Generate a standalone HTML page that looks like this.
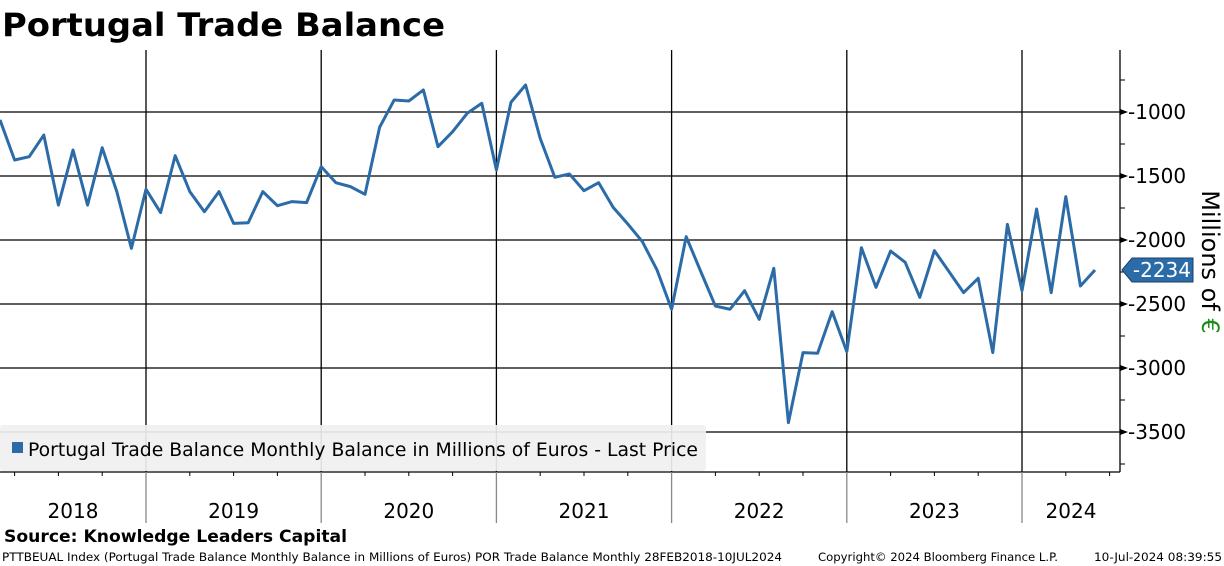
<!DOCTYPE html>
<html><head><meta charset="utf-8"><style>
html,body{margin:0;padding:0;background:#fff;}
svg{display:block;font-family:"DejaVu Sans","Liberation Sans",sans-serif;}
</style></head><body>
<svg id="chart" width="1224" height="566" viewBox="0 0 1224 566">
<text x="2" y="36" font-size="32" font-weight="bold" textLength="443" lengthAdjust="spacingAndGlyphs">Portugal Trade Balance</text>
<g id="grid"></g>
<g id="yaxis"></g>
<g id="xaxis"></g>
<rect x="0" y="425" width="706" height="46" rx="3" fill="#f0f0f0" opacity="0.92"/>
<rect x="12" y="442" width="11" height="11" fill="#2b6ca8"/>
<text x="28" y="456" font-size="19" textLength="670" lengthAdjust="spacingAndGlyphs">Portugal Trade Balance Monthly Balance in Millions of Euros - Last Price</text>
<g id="series"></g>
<text x="1202" y="262" font-size="24" transform="rotate(90 1202 262)" text-anchor="middle">Millions of <tspan fill="#1a8a1a">€</tspan></text>
<text x="4" y="542" font-size="17" font-weight="bold" textLength="343" lengthAdjust="spacingAndGlyphs">Source: Knowledge Leaders Capital</text>
<text x="2" y="561" font-size="11.5" textLength="780" lengthAdjust="spacingAndGlyphs">PTTBEUAL Index (Portugal Trade Balance Monthly Balance in Millions of Euros) POR Trade Balance  Monthly 28FEB2018-10JUL2024</text>
<text x="818" y="561" font-size="11.5" textLength="240" lengthAdjust="spacingAndGlyphs">Copyright© 2024 Bloomberg Finance L.P.</text>
<text x="1094" y="561" font-size="11.5" textLength="128" lengthAdjust="spacingAndGlyphs">10-Jul-2024 08:39:55</text>
</svg>
<script>
const values = [-1062,-1375,-1349,-1180,-1727,-1297,-1727,-1279,-1622,-2065,
-1604,-1786,-1341,-1622,-1779,-1622,-1870,-1865,-1622,-1732,-1700,-1708,
-1427,-1552,-1583,-1643,-1120,-906,-914,-828,-1271,-1154,-1010,-932,
-1453,-924,-789,-1206,-1510,-1484,-1615,-1552,-1745,-1875,-2013,-2234,
-2541,-1974,-2247,-2516,-2541,-2396,-2620,-2221,-3427,-2880,-2885,-2560,
-2872,-2060,-2370,-2086,-2174,-2448,-2083,-2247,-2411,-2299,-2880,-1878,
-2396,-1758,-2411,-1661,-2359,-2234];
const yTicks = [-1000,-1500,-2000,-2500,-3000,-3500];
const yMinor = [-750,-1250,-1750,-2250,-2750,-3250,-3750];
const years = ["2018","2019","2020","2021","2022","2023","2024"];
const yearStartIdx = [-2,10,22,34,46,58,70];
const lastLabel = "-2234";

const NS="http://www.w3.org/2000/svg";
const dx=14.6, x0=0, plotTop=50, plotBottom=472, plotRight=1120;
const X=i=>x0+i*dx;
const Y=v=>112+(-1000-v)*0.128;
function mk(tag,attrs,parent){const e=document.createElementNS(NS,tag);for(const k in attrs)e.setAttribute(k,attrs[k]);document.getElementById(parent).appendChild(e);return e;}

yTicks.forEach(v=>{
  const l=mk('line',{x1:0,x2:plotRight,y1:Y(v),y2:Y(v),stroke:'#000','stroke-width':1.3},'grid');
  
  
  const a=mk('path',{d:`M${plotRight} ${Y(v)-3}L${plotRight+8} ${Y(v)}L${plotRight} ${Y(v)+3}Z`,fill:'#000'},'yaxis');
  
  
  const t=mk('text',{x:plotRight+8,y:Y(v)+7,'font-size':20},'yaxis');
  t.textContent=v;
  
  
});
yMinor.forEach(v=>{
  const l=mk('line',{x1:plotRight,x2:plotRight+5,y1:Y(v),y2:Y(v),stroke:'#000'},'yaxis');
  
  
});
const ax=mk('line',{x1:plotRight,x2:plotRight,y1:plotTop,y2:plotBottom,stroke:'#000','stroke-width':1.3},'yaxis');


const bx=mk('line',{x1:0,x2:plotRight,y1:plotBottom,y2:plotBottom,stroke:'#000','stroke-width':1.3},'xaxis');



const yearX=yearStartIdx.map(i=>X(i));
yearX.forEach((xv,k)=>{
  if(k>0){
    const g=mk('line',{x1:xv,x2:xv,y1:plotTop,y2:plotBottom,stroke:'#000','stroke-width':1.3},'grid');
    
    
    const s=mk('line',{x1:xv,x2:xv,y1:plotBottom,y2:523,stroke:'#888','stroke-width':1.3},'xaxis');
    
    
  }
  for(let q=1;q<4;q++){
    const qx=xv+q*3*dx;
    if(qx>0&&qx<plotRight){
      const m=mk('line',{x1:qx,x2:qx,y1:plotBottom,y2:plotBottom+4,stroke:'#000'},'xaxis');
      
      
    }
  }
  const next=k<years.length-1?yearX[k+1]:plotRight;
  const cx=Math.max(0,xv)+(next-Math.max(0,xv))/2;
  const t=mk('text',{x:(k==0?73:(k==years.length-1?1071:cx)),y:518,'font-size':20,'text-anchor':'middle'},'xaxis');
  t.textContent=years[k];
  
  
});

const line=mk('polyline',{points:values.map((v,i)=>X(i)+','+Y(v)).join(' '),fill:'none',stroke:'#2b6ca8','stroke-width':3,'stroke-linejoin':'round'},'series');



const lv=values[values.length-1], ly=Y(lv);
const tag=mk('path',{d:`M${plotRight+2} ${ly}L${plotRight+12} ${ly-12}H1193V${ly+12}H${plotRight+12}Z`,fill:'#2b6ca8',stroke:'#1b3f66'},'series');


const tt=mk('text',{x:1191,y:ly+7,'font-size':20,fill:'#fff','text-anchor':'end'},'series');
tt.textContent=lastLabel;


</script>
</body></html>
